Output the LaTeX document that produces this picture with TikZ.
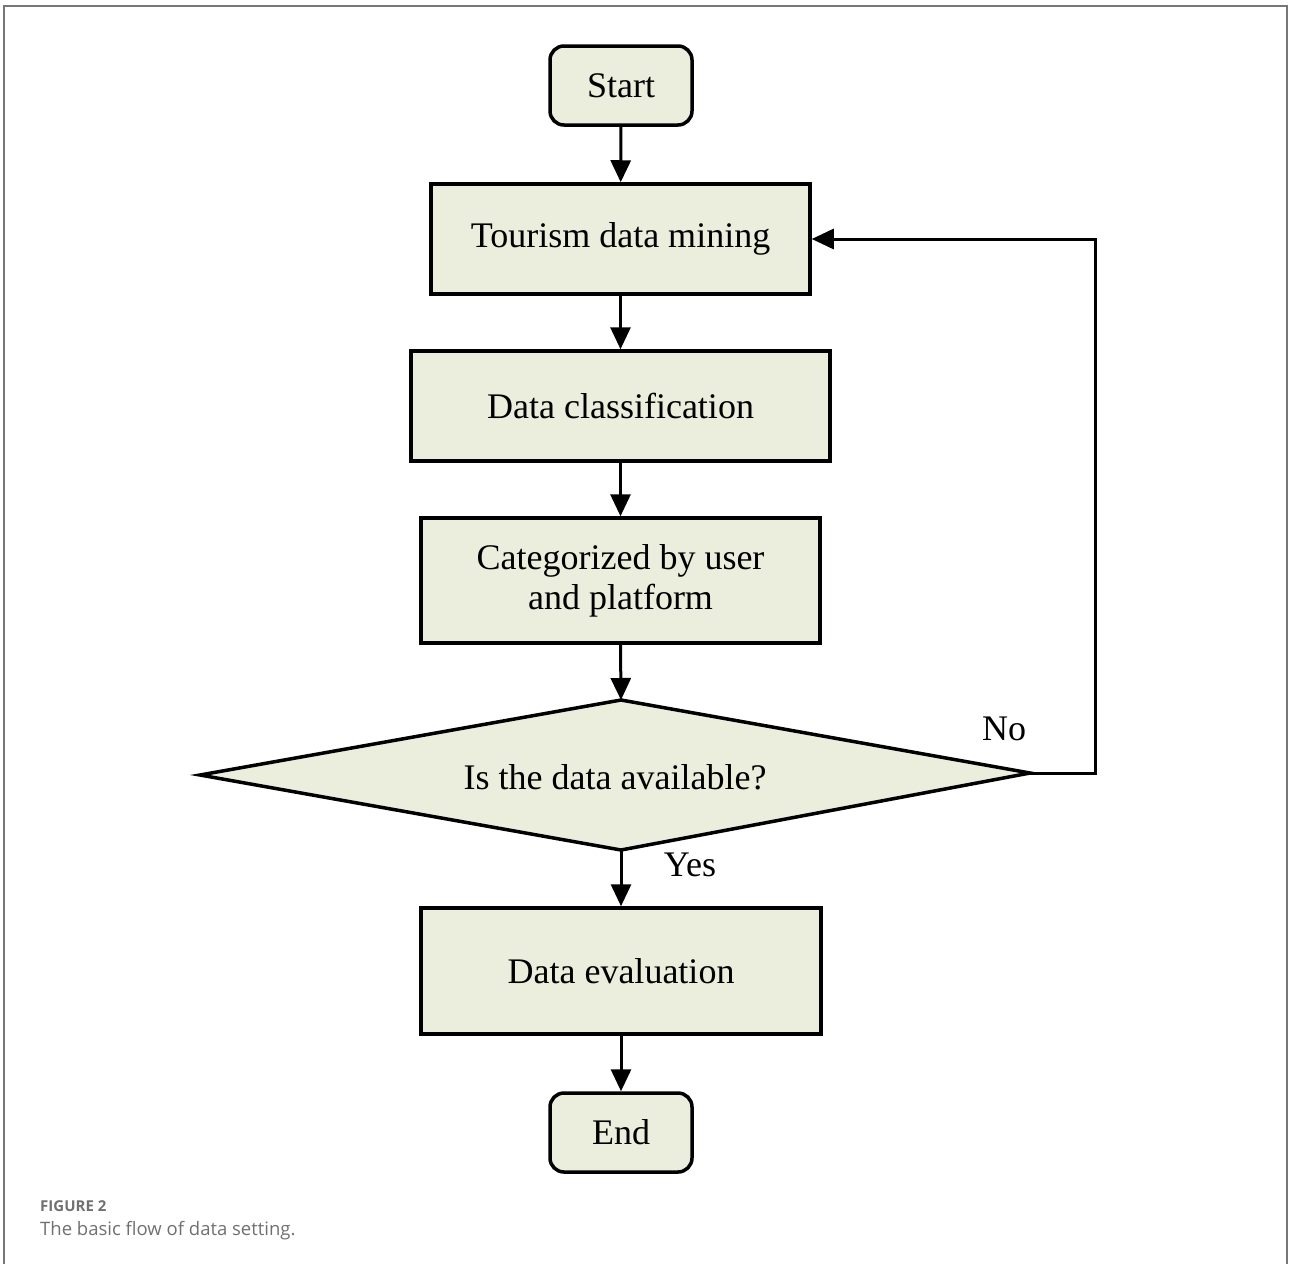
\documentclass[tikz,border=0pt]{standalone}
\usepackage{fontspec}
\setmainfont{Liberation Serif}
\newfontfamily\capfont{Open Sans}
\usetikzlibrary{arrows.meta}
\definecolor{boxfill}{HTML}{EBEEDC}
\definecolor{framegrey}{HTML}{777777}
\definecolor{capgrey}{HTML}{707070}
\begin{document}
\begin{tikzpicture}[x=1pt,y=-1pt,
  box/.style={draw=black,fill=boxfill,line width=3.5pt,inner sep=0pt,font=\fontsize{36}{40}\selectfont,align=center},
  term/.style={box,rounded corners=14pt},
  conn/.style={line width=3pt,-{Triangle[length=22pt,width=20pt]}},
  lbl/.style={font=\fontsize{36}{40}\selectfont}]
\useasboundingbox (0,0) rectangle (1290,1264);
\draw[framegrey,line width=2pt] (4,1264) -- (4,6) -- (1287,6) -- (1287,1264);
\node[term,minimum width=142pt,minimum height=79pt] (start) at (621,85.5) {Start};
\node[box,minimum width=379pt,minimum height=110pt] (mine) at (620.5,239) {Tourism data mining};
\node[box,minimum width=419pt,minimum height=110pt] (cls) at (620.5,406) {Data classification};
\node[box,minimum width=399pt,minimum height=125pt] (cat) at (620.5,580.5) {Categorized by user\\and platform};
\coordinate (dt) at (621,700);
\coordinate (dl) at (200,775);
\coordinate (db) at (621,850);
\coordinate (dr) at (1030,773);
\draw[black,fill=boxfill,line width=3.5pt,line join=miter] (dt) -- (dr) -- (db) -- (dl) -- cycle;
\node[lbl] (q) at (615,777) {Is the data available?};
\node[box,minimum width=400pt,minimum height=126pt] (eval) at (621,971) {Data evaluation};
\node[term,minimum width=142pt,minimum height=79pt] (end) at (621,1132.5) {End};
\draw[conn] (start) -- (mine);
\draw[conn] (mine) -- (cls);
\draw[conn] (cls) -- (cat);
\draw[conn] (cat.south) -- (dt);
\draw[conn] (db) -- (eval.north);
\draw[conn] (eval) -- (end);
\coordinate (c1) at (1095,773);
\coordinate (c2) at (1095,239);
\draw[conn] (dr) -- (c1) -- (c2) -- (mine.east);
\node[lbl,anchor=center] (no) at (1004,729) {No};
\node[lbl,anchor=center] (yes) at (690,865) {Yes};
\node[anchor=west,inner sep=0pt,text=capgrey,font=\capfont\bfseries\fontsize{15}{18}\selectfont] (fig) at (40,1206) {FIGURE 2};
\node[anchor=west,inner sep=0pt,text=capgrey,font=\capfont\fontsize{18.5}{22}\selectfont] (capt) at (40,1231) {The basic flow of data setting.};
\end{tikzpicture}
\end{document}
